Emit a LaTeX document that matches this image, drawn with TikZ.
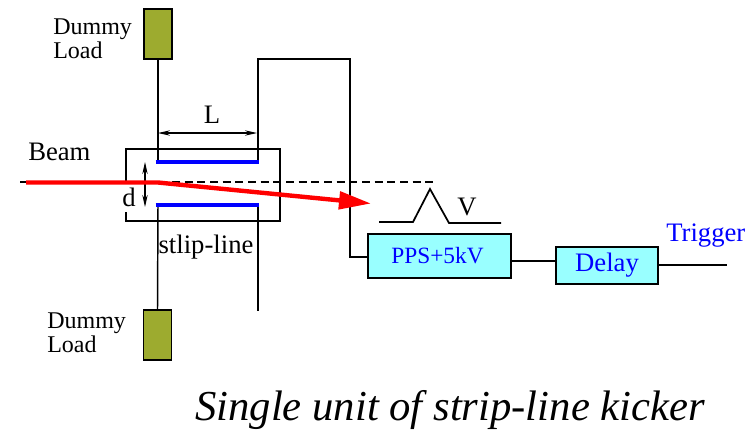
\documentclass[tikz,border=0pt]{standalone}
\usepackage{fontspec}
\setmainfont{Liberation Serif}
\usetikzlibrary{arrows.meta}
\definecolor{loadc}{HTML}{9DAB2F}
\definecolor{boxc}{HTML}{99FFFF}
\begin{document}
\begin{tikzpicture}[x=0.75pt,y=-0.75pt,
  wire/.style={black,line width=1.1pt},
  load/.style={draw=black,line width=1.1pt,fill=loadc,inner sep=0pt,minimum width=21pt,minimum height=37.5pt},
  unit/.style={draw=black,line width=1.3pt,fill=boxc,inner sep=0pt,text=blue},
  lab/.style={inner sep=0pt,font=\fontsize{20}{22}\selectfont},
  plate/.style={blue,line width=2.5pt},
  dim/.style={black,line width=0.8pt,{Stealth[length=9pt,width=4pt]}-{Stealth[length=9pt,width=4pt]}}]
\useasboundingbox (0,0) rectangle (756,433);
% frame, with its gap on the left
\coordinate (fa) at (126,182);
\coordinate (fb) at (126,149);
\coordinate (fc) at (280,149);
\coordinate (fd) at (280,221);
\coordinate (fe) at (126,221);
\coordinate (ff) at (126,212);
\draw[wire] (fa) -- (fb) -- (fc) -- (fd) -- (fe) -- (ff);
% loads
\node[load] (topload) at (158,34) {};
\node[load] (botload) at (157.5,335) {};
% plates
\coordinate (p1l) at (155.5,162); \coordinate (p1r) at (259,162);
\coordinate (p2l) at (155.5,205); \coordinate (p2r) at (259,205);
\coordinate (w1) at (158,162); \coordinate (w2) at (158,205);
\coordinate (w3) at (258,162); \coordinate (w4) at (258,205);
\coordinate (w5) at (258,59); \coordinate (w6) at (350,59);
\coordinate (w7) at (350,257);
\coordinate (w8) at (258,311);
% units
\node[unit,minimum width=107.25pt,minimum height=33pt,font=\fontsize{17.5}{19}\selectfont] (pps) at (439.5,256) {\hspace{-3pt}PPS+5kV};
\node[unit,minimum width=76.5pt,minimum height=27.75pt,font=\fontsize{20}{22}\selectfont] (delay) at (607,265.5) {Delay};
\coordinate (trig) at (727,265);
% wires
\draw[wire] (topload.south) -- (w1);
\draw[wire] (botload.north) -- (w2);
\draw[wire] (w3) -- (w5) -- (w6) -- (w7) -- (pps.west |- w7);
\draw[wire] (w4) -- (w8);
\coordinate (ppsr) at (511,261);
\draw[wire] (ppsr) -- (delay.west |- ppsr);
\draw[wire] (delay.east |- trig) -- (trig);
% dimension arrows
\coordinate (la) at (158,133); \coordinate (lb) at (257,133);
\draw[dim] (la) -- (lb);
\coordinate (da) at (145,162); \coordinate (db) at (145,207);
\draw[dim] (da) -- (db);
% beam axis
\coordinate (ba) at (20,182); \coordinate (bb) at (436,182);
\draw[black,line width=1pt,dash pattern=on 6pt off 3.5pt] (ba) -- (bb);
% plates on top
\draw[plate] (p1l) -- (p1r);
\draw[plate] (p2l) -- (p2r);
% pulse
\coordinate (v1) at (379,222); \coordinate (v2) at (413,222);
\coordinate (v3) at (430,189); \coordinate (v4) at (449,223);
\coordinate (v5) at (501,223);
\draw[black,line width=1.3pt,line join=miter] (v1) -- (v2) -- (v3) -- (v4) -- (v5);
% beam
\coordinate (r1) at (26,182.5); \coordinate (r2) at (158,182.5); \coordinate (r3) at (371,203.5);
\draw[red,line width=3.3pt,line join=round,-{Triangle[length=24pt,width=13pt]}] (r1) -- (r2) -- (r3);
% labels
\node[lab,anchor=west] (beam) at (28,152) {Beam};
\node[lab] (ll) at (212,115) {L};
\node[lab] (dl) at (129,197) {d};
\node[lab] (sl) at (206,247) {stlip-line};
\node[lab] (vl) at (467,207) {V};
\node[lab,text=blue,anchor=west] (tr) at (666,236) {Trigger};
\node[lab,align=left,anchor=north west,font=\fontsize{18}{18}\selectfont] (d1) at (53,19) {Dummy\\Load};
\node[lab,align=left,anchor=north west,font=\fontsize{18}{18}\selectfont] (d2) at (47,313) {Dummy\\Load};
\node[inner sep=0pt,font=\fontsize{32}{34}\selectfont\itshape] (title) at (450,410) {Single unit of strip-line kicker};
\end{tikzpicture}
\end{document}
